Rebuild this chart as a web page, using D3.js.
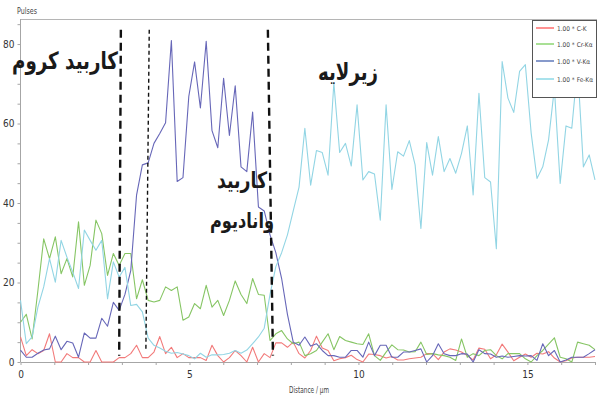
<!DOCTYPE html>
<html>
<head>
<meta charset="utf-8">
<script src="https://cdn.jsdelivr.net/npm/d3@7"></script>
<style>
  body { margin: 0; background: #fff; }
  svg { display: block; }
  .axis text { font-family: 'Liberation Sans Narrow', 'DejaVu Sans Condensed', sans-serif; font-size: 10px; fill: #333; }
  .axis path, .axis line { stroke: #a6a6a6; }
  .note { font-family: 'DejaVu Sans', sans-serif; font-weight: bold; fill: #1a1a1a; }
  .small { font-family: 'Liberation Sans Narrow', 'DejaVu Sans Condensed', sans-serif; font-size: 9px; fill: #444; }
</style>
</head>
<body>
<svg id="chart"></svg>
<script>
// EDS line scan, 100 samples from 0 to 17 µm
const sampleCount = 100;
const scanLength = 17;

const seriesNames = ['1.00 * C-K', '1.00 * Cr-Kα', '1.00 * V-Kα', '1.00 * Fe-Kα'];

const cK = [6.3, 1.6, 3.1, 2.1, 2.9, 7.1, 0, 0, 2.1, 1.1, 1.1, 0, 0, 2.9, 0, 0, 0, 1.1, 1.1, 2.1, 4.2, 1.1, 1.1,
  2.5, 6.4, 2.1, 3.7, 1.1, 2.1, 1.1, 1.1, 1.1, 0.4, 4.2, 1.6, 0, 1.1, 2.9, 1.6, 0, 3.7, 0, 2.1, 1.1, 4.8, 4.8, 3.7, 5.0, 2.1,
  1.0, 2.9, 6.5, 3.5, 2.9, 0.3, 0.8, 1.1, 1.7, 0.6, 0, 2.0, 1.9, 1.6, 1.0, 1.4, 0.5, 0.5, 0.8, 1.0, 1.2, 2.1, 2.1, 0.6, 2.5,
  3.3, 3.0, 2.5, 1.6, 0.5, 3.5, 3.2, 0.8, 1.8, 4.5, 2.5, 0.3, 1.2, 2.0, 1.2, 2.2, 2.0, 2.6, 1.0, 0, 0.3, 1.0, 1.2, 1.2, 1.2, 1.4];

const crK = [10, 12, 5.8, 18, 31, 26, 31.5, 22.2, 26, 21.4, 35.3, 19.3, 24.3, 35.7, 32.3, 21.8, 27.3, 24.3, 27.3, 27.3, 15.9, 20.7, 15.5,
  15.1, 15.5, 18.9, 18.0, 18.9, 10.5, 11.3, 14.7, 13.4, 19.3, 13.8, 15.5, 11.7, 15.5, 20.4, 17.0, 14.7, 21, 17.0, 16.8, 5.4, 7.1, 7.9, 5.8, 4.6, 5.0,
  1.6, 2.1, 2.9, 5.0, 7.1, 3.1, 6.4, 5.4, 5.0, 4.6, 4.4, 7.1, 1.6, 0.4, 2.5, 4.3, 3.1, 3.0, 2.5, 2.6, 5.0, 1.9, 2.1, 1.8, 1.6,
  1.2, 0.4, 5.8, 1.2, 2.1, 1.6, 2.9, 3.1, 1.6, 0.8, 2.1, 2.1, 2.1, 0.8, 0, 1.6, 2.9, 4.5, 6.1, 1.2, 0.8, 0, 5.0, 4.6, 4.2, 3.1];

const vK = [3.0, 1.2, 1.2, 2.2, 3.0, 3.3, 6.5, 3.1, 5.2, 4.8, 1.2, 7.3, 6.0, 6.0, 11, 9.0, 15, 13, 17, 23,
  42, 49.6, 50.1, 55, 57.5, 60.2, 80.9, 45.4, 46.4, 66.8, 75.5, 63.9, 80.7, 58.2, 53.9, 71.4, 57, 69.5, 49.1, 47.9, 62.9,
  39, 38, 32, 27.5, 21, 12, 5,
  4.2, 6.3, 4.0, 4.6, 2.9, 1.6, 1.6, 1.2, 1.2, 2.9, 2.9, 1.2, 5.0, 1.6, 4.2, 4.2, 1.2, 1.2, 2.5, 2.5, 2.9, 3.3, 0, 1.6, 4.6,
  2.1, 1.6, 1.6, 2.1, 2.0, 0, 3.1, 2.1, 2.0, 1.2, 1.5, 1.2, 1.4, 1.6, 1.5, 1.6, 0.4, 4.6, 1.6, 2.9, 0, 0.5, 1.2, 1.2, 1.2, 2.1, 3.1];

const feK = [15.5, 4.6, 6.3, 13.8, 18.9, 26, 20.1, 30.6, 26.4, 22.6, 18.5, 33.2, 30.6, 28.1, 30.6, 15.9, 25.2, 21.4, 23.8, 14.2, 14.5, 12.6,
  6.0, 4.2, 3.5, 2.7, 2.2, 2.4, 2.0, 1.6, 0.8, 2.2, 1.2, 1.8, 1.8, 1.9, 2.2, 2.9, 2.2, 3.0, 4.6, 6.3, 8.5, 17, 24, 27.5, 32, 38, 44,
  58.8, 44.5, 53.2, 52.7, 47.0, 70.2, 52.7, 55, 49.3, 64.7, 45.8, 47.9, 47.3, 35.7, 64.7, 43.4, 52.9, 51.8, 55.7, 49.6, 33.6,
  55.2, 47.0, 56.7, 47.9, 51.2, 47.5, 52.5, 59.4, 42.0, 67.6, 46.4, 45.3, 28.5, 75.6, 66.4, 62.8, 73.1, 74.8, 57.6, 46.2,
  49.1, 55.9, 68.9, 44.9, 59.4, 58.8, 74.4, 49.1, 52.1, 45.8];

// dashed boundaries drawn over the scan (µm at top, µm at bottom)
const boundaryTopX = [2.97, 3.81, 7.32];
const boundaryBottomX = [2.92, 3.71, 7.47];
const boundaryBottomY = [1.6, 2.9, 1.6];
const boundaryTopY = 83.6;

// Persian region labels
const regionLabels = ['کاربید کروم', 'زیرلایه', 'کاربید', 'وانادیوم'];

const lineColors = ['#f27a7a', '#86c564', '#6767b8', '#92d5e4'];
const legendColors = ['#ff4a4a', '#6fcb4e', '#3656a8', '#6fcfe0'];

const width = 597, height = 401;
const margin = {top: 19, left: 20.5, right: 595, bottom: 362};

const svg = d3.select('#chart')
  .attr('width', width)
  .attr('height', height);

svg.append('rect').attr('width', width).attr('height', height).attr('fill', '#fff');

const xScale = d3.scaleLinear().domain([0, scanLength]).range([margin.left, margin.right]);
const yScale = d3.scaleLinear().domain([0, 86.3]).range([margin.bottom, margin.top]);

const step = scanLength / (sampleCount - 1);
const seriesData = [cK, crK, vK, feK];

// top frame line
svg.append('line')
  .attr('x1', margin.left).attr('x2', width)
  .attr('y1', margin.top + 0.5).attr('y2', margin.top + 0.5)
  .attr('stroke', '#b5b5b5');

// axes
const xAxis = d3.axisBottom(xScale)
  .tickValues(d3.range(0, 18, 1))
  .tickFormat(d => d % 5 === 0 ? d : '')
  .tickSize(3)
  .tickSizeOuter(0)
  .tickPadding(6);

const yAxis = d3.axisLeft(yScale)
  .tickValues(d3.range(0, 86, 5))
  .tickFormat(d => d % 20 === 0 ? d : '')
  .tickSize(3)
  .tickSizeOuter(0)
  .tickPadding(3);

svg.append('g')
  .attr('class', 'axis')
  .attr('transform', `translate(0,${margin.bottom})`)
  .call(xAxis);

svg.append('g')
  .attr('class', 'axis')
  .attr('transform', `translate(${margin.left},0)`)
  .call(yAxis)
  .call(g => g.select('.domain').attr('d', `M0,${margin.top}V${margin.bottom}`));

// axis titles
svg.append('text').attr('class', 'small')
  .attr('x', 17).attr('y', 14)
  .style('font-size', '8px')
  .attr('textLength', 20).attr('lengthAdjust', 'spacingAndGlyphs')
  .text('Pulses');

svg.append('text').attr('class', 'small')
  .attr('x', 289).attr('y', 393)
  .style('font-size', '8.5px')
  .attr('textLength', 40).attr('lengthAdjust', 'spacingAndGlyphs')
  .text('Distance / µm');

// series lines
const line = d3.line()
  .x((d, i) => xScale(i * step))
  .y(d => yScale(d));

svg.append('g')
  .selectAll('path')
  .data(seriesData)
  .join('path')
  .attr('d', d => line(d))
  .attr('fill', 'none')
  .attr('stroke', (d, i) => lineColors[i])
  .attr('stroke-width', 1.1)
  .attr('stroke-linejoin', 'round');

// dashed boundaries
const boundaryWidths = [2.4, 1.4, 2.4];
const boundaryDash = ['8,5', '4,3', '8,5'];
svg.append('g')
  .selectAll('line')
  .data(boundaryTopX)
  .join('line')
  .attr('x1', d => xScale(d))
  .attr('y1', yScale(boundaryTopY))
  .attr('x2', (d, i) => xScale(boundaryBottomX[i]))
  .attr('y2', (d, i) => yScale(boundaryBottomY[i]))
  .attr('stroke', '#111')
  .attr('stroke-width', (d, i) => boundaryWidths[i])
  .attr('stroke-dasharray', (d, i) => boundaryDash[i]);

// region labels: [centre x, baseline y, target width]
const labelPlace = [[65, 69, 106], [348, 80, 60], [242, 188, 50], [242, 228, 64]];
svg.append('g')
  .selectAll('text')
  .data(regionLabels)
  .join('text')
  .attr('class', 'note')
  .attr('text-anchor', 'middle')
  .attr('transform', (d, i) => `translate(${labelPlace[i][0]},${labelPlace[i][1]}) scale(1,1.3)`)
  .style('font-size', '18px')
  .text(d => d)
  .each(function(d, i) {
    const w = this.getComputedTextLength();
    if (w > 0) d3.select(this).style('font-size', (18 * labelPlace[i][2] / w) + 'px');
  });

// legend
const legend = svg.append('g').attr('transform', 'translate(532,20)');
legend.append('rect')
  .attr('x', 0.5).attr('y', 0.5)
  .attr('width', 64).attr('height', 77)
  .attr('fill', '#fff')
  .attr('stroke', '#555');

const legendRows = [8, 24, 41, 59];
seriesNames.forEach((name, i) => {
  legend.append('line')
    .attr('x1', 4).attr('x2', 22)
    .attr('y1', legendRows[i]).attr('y2', legendRows[i])
    .attr('stroke', legendColors[i])
    .attr('stroke-width', 1.2);
  legend.append('text')
    .attr('class', 'small')
    .attr('x', 25).attr('y', legendRows[i] + 2.5)
    .style('font-size', '6.5px')
    .text(name);
});
</script>
</body>
</html>
